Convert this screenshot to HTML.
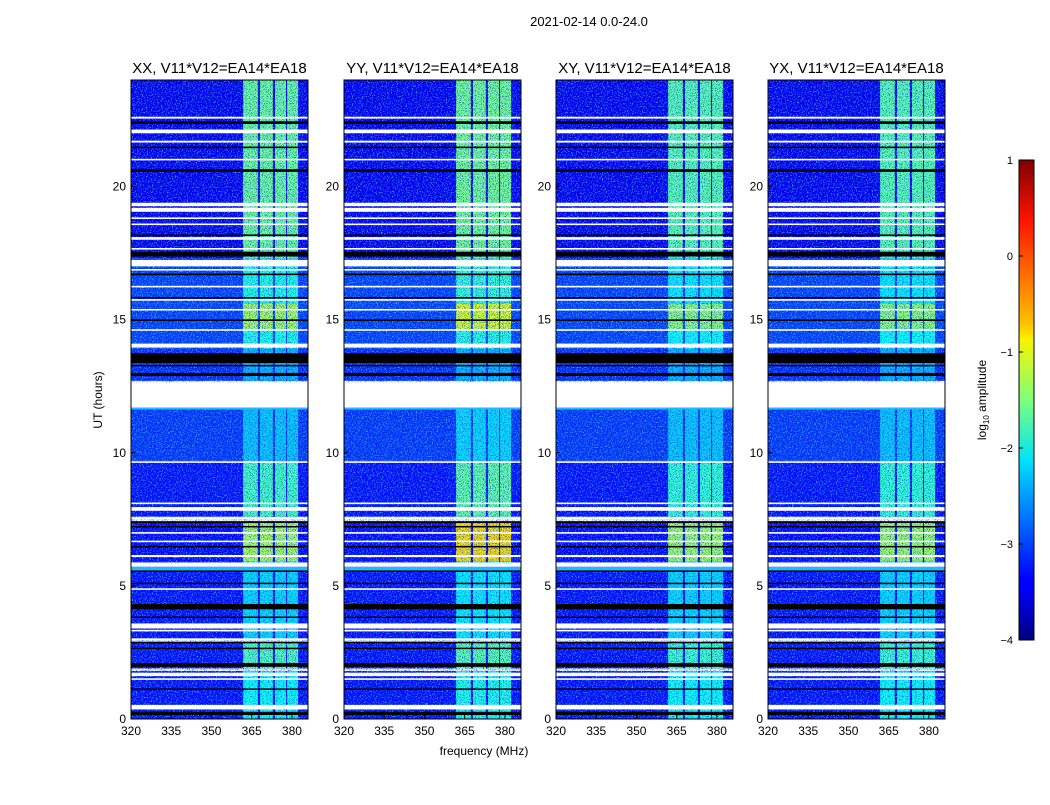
<!DOCTYPE html>
<html><head><meta charset="utf-8"><style>
body{margin:0;background:#fff;width:1050px;height:800px;overflow:hidden;font-family:"Liberation Sans",sans-serif}
svg text{font-family:"Liberation Sans","DejaVu Sans",sans-serif}
</style></head><body>
<svg id="fig" width="1050" height="800" xmlns="http://www.w3.org/2000/svg">
<defs>
<filter id="noiseLight" x="0" y="0" width="100%" height="100%">
<feTurbulence type="fractalNoise" baseFrequency="0.8" numOctaves="2" seed="3"/>
<feColorMatrix type="matrix" values="0 0 0 0 0.1  0 0 0 0 0.75  0 0 0 0 1  5 0 0 0 -2.6"/>
</filter>
<filter id="noiseDark" x="0" y="0" width="100%" height="100%">
<feTurbulence type="fractalNoise" baseFrequency="0.85" numOctaves="2" seed="11"/>
<feColorMatrix type="matrix" values="0 0 0 0 0  0 0 0 0 0  0 0 0 0 0.55  0 5 0 0 -2.6"/>
</filter>
<linearGradient id="jetgrad" x1="0" y1="1" x2="0" y2="0">
<stop offset="0" stop-color="#00007f"/><stop offset="0.11" stop-color="#0000ff"/><stop offset="0.125" stop-color="#0000ff"/>
<stop offset="0.34" stop-color="#00c0ff"/><stop offset="0.375" stop-color="#00e4f8"/><stop offset="0.5" stop-color="#7dff7a"/>
<stop offset="0.625" stop-color="#f8f500"/><stop offset="0.66" stop-color="#ffc000"/><stop offset="0.875" stop-color="#ff1300"/><stop offset="1" stop-color="#7f0000"/>
</linearGradient>
</defs>
<text x="589" y="26" font-size="13" text-anchor="middle">2021-02-14 0.0-24.0</text>
<text x="484" y="755" font-size="12" text-anchor="middle">frequency (MHz)</text>
<text transform="translate(102,400) rotate(-90)" font-size="12" text-anchor="middle">UT (hours)</text>
<g id="panels"></g>
<g id="cbar">
<rect x="1019" y="160" width="15" height="480" fill="url(#jetgrad)" stroke="#000" stroke-width="1"/>
<text transform="translate(986,400) rotate(-90)" font-size="12" text-anchor="middle">log<tspan font-size="8" dy="3">10</tspan><tspan dy="-3"> amplitude</tspan></text>
</g>
</svg>
<script>
const ns="http://www.w3.org/2000/svg";
const titles=["XX, V11*V12=EA14*EA18","YY, V11*V12=EA14*EA18","XY, V11*V12=EA14*EA18","YX, V11*V12=EA14*EA18"];
const xTicks=[320,335,350,365,380];
const yTicks=[0,5,10,15,20];
const cbTicks=[1,0,-1,-2,-3,-4];
// time segments [t0,t1] hours
const segStart=[17.3,15.6,14.6,13.9,12.7,9.7,7.6,5.9,3.0,1.9,0];
const segEnd=[24,17.3,15.6,14.6,13.9,11.7,9.7,7.4,5.9,2.9,1.8];
const segBg=[-3.45,-3.05,-3.05,-3.05,-3.15,-3.1,-3.3,-3.35,-3.3,-3.3,-3.3];
const bandXX=[-1.6,-2.0,-1.3,-2.0,-2.5,-2.4,-1.8,-1.3,-2.3,-1.75,-2.1];
const bandYY=[-1.55,-1.9,-1.05,-1.95,-2.5,-2.3,-1.65,-0.7,-2.2,-1.7,-2.0];
const bandXY=[-1.7,-2.2,-1.45,-2.1,-2.5,-2.4,-1.9,-1.35,-2.3,-1.85,-2.1];
const bandYX=[-1.7,-2.2,-1.45,-2.1,-2.5,-2.4,-1.9,-1.35,-2.3,-1.85,-2.1];
const bandLevels=[bandXX,bandYY,bandXY,bandYX];
// bright channel blocks (MHz)
const chanLo=[361.8,368.1,373.7,378.2];
const chanHi=[367.3,372.9,377.8,382.3];
// flagged (white) intervals
const whiteStart=[22.55,22.0,21.65,20.98,19.26,19.05,18.78,18.55,18.0,17.63,17.0,16.84,16.21,15.71,15.34,14.58,13.95,11.7,9.62,8.07,7.82,7.51,6.96,6.64,6.08,5.72,4.85,3.40,3.29,2.97,1.61,1.47,0.36];
const whiteEnd=[22.62,22.14,21.72,21.04,19.39,19.2,18.84,18.61,18.1,17.69,17.24,16.9,16.27,15.77,15.4,14.64,14.1,12.65,9.68,8.13,7.96,7.57,7.02,6.7,6.16,5.88,4.91,3.59,3.35,3.03,1.74,1.53,0.53];
// dark (black) lines
const blackStart=[22.35,21.44,20.55,18.14,17.37,16.67,15.79,14.95,13.37,13.25,12.88,7.36,7.2,6.46,5.53,5.07,4.12,3.8,2.85,2.63,1.96,1.1,0.15];
const blackEnd=[22.45,21.5,20.65,18.2,17.55,16.73,15.85,15.01,13.74,13.3,13.0,7.43,7.25,6.5,5.58,5.12,4.32,3.85,2.9,2.68,2.1,1.15,0.27];
const cyanStart=[11.62,5.53,0.36];
const cyanEnd=[11.7,5.72,0.53];

const pLeft=[131,344,556,768], pTop=80, pW=177, pH=639;
const fMin=320,fMax=386,tMin=0,tMax=24;
function jet(v){const x=Math.max(0,Math.min(1,(v+4)/5));
 const c=t=>Math.round(255*Math.max(0,Math.min(1,1.5-Math.abs(4*x-t))));
 return `rgb(${c(3)},${c(2)},${c(1)})`;}
function el(tag,attrs,parent){const e=document.createElementNS(ns,tag);for(const k in attrs)e.setAttribute(k,attrs[k]);parent.appendChild(e);return e;}
const root=document.getElementById('panels');
for(let p=0;p<4;p++){
 const L=pLeft[p];
 const X=f=>L+(f-fMin)/(fMax-fMin)*pW;
 const Y=t=>pTop+(tMax-t)/(tMax-tMin)*pH;
 const g=el('g',{},root);
 
 
 const bgR=el('rect',{x:L,y:pTop,width:pW,height:pH,fill:'#fff'},g);
 
 
 const hm=el('g',{},g);
 
 
 for(let i=0;i<segStart.length;i++){
  const y0=Y(segEnd[i]),y1=Y(segStart[i]);
  const r=el('rect',{x:L,y:y0,width:pW,height:y1-y0,fill:jet(segBg[i])},hm);
  
  
  for(let c=0;c<chanLo.length;c++){
   const b=el('rect',{x:X(chanLo[c]),y:y0,width:X(chanHi[c])-X(chanLo[c]),height:y1-y0,fill:jet(bandLevels[p][i])},hm);
   
   
  }
 }
 const nz=el('rect',{x:L,y:pTop,width:pW,height:pH,filter:'url(#noiseLight)',opacity:0.75},hm);
 
 
 const nd=el('rect',{x:L,y:pTop,width:pW,height:pH,filter:'url(#noiseDark)',opacity:0.6},hm);
 
 
 for(let i=0;i<cyanStart.length;i++){
  const r=el('rect',{x:L,y:Y(cyanEnd[i]),width:pW,height:Y(cyanStart[i])-Y(cyanEnd[i]),fill:'#22b8ff'},hm);
  
  
 }
 for(let i=0;i<blackStart.length;i++){
  const r=el('rect',{x:L,y:Y(blackEnd[i]),width:pW,height:Math.max(1.5,Y(blackStart[i])-Y(blackEnd[i])),fill:'#000'},hm);
  
  
 }
 for(let i=0;i<whiteStart.length;i++){
  const r=el('rect',{x:L,y:Y(whiteEnd[i]),width:pW,height:Math.max(1.5,Y(whiteStart[i])-Y(whiteEnd[i])),fill:'#fff'},hm);
  
  
 }
 const fr=el('rect',{x:L,y:pTop,width:pW,height:pH,fill:'none',stroke:'#000','stroke-width':1},g);
 
 
 const tt=el('text',{x:L+pW/2,y:73,'font-size':15,'text-anchor':'middle'},g);
 tt.textContent=titles[p];
 
 
 xTicks.forEach(v=>{
  const x=X(v);
  const t1=el('line',{x1:x,x2:x,y1:pTop+pH,y2:pTop+pH-4,stroke:'#000'},g);
  
  
  const t=el('text',{x:x,y:pTop+pH+16,'font-size':12,'text-anchor':'middle'},g);
  t.textContent=v;
  
  
 });
 yTicks.forEach(v=>{
  const y=Y(v);
  const t1=el('line',{x1:L,x2:L+4,y1:y,y2:y,stroke:'#000'},g);
  
  
  const t=el('text',{x:L-5,y:y+4,'font-size':12,'text-anchor':'end'},g);
  t.textContent=v;
  
  
 });
}
const cb=document.getElementById('cbar');
cbTicks.forEach(v=>{
 const y=160+(1-v)/5*480;
 const l=el('line',{x1:1019,x2:1023,y1:y,y2:y,stroke:'#000'},cb);
 
 
 const t=el('text',{x:1013,y:y+4,'font-size':11,'text-anchor':'end'},cb);
 t.textContent=v<0?'\u2212'+(-v):String(v);
 
 
});
</script>
</body></html>
